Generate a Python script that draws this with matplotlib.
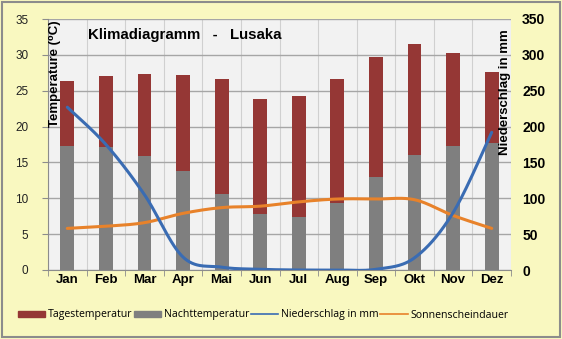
import numpy as np
import matplotlib
matplotlib.use("Agg")
import matplotlib.pyplot as plt
from matplotlib.patches import Patch, Rectangle
from matplotlib.lines import Line2D

months = ["Jan", "Feb", "Mar", "Apr", "Mai", "Jun", "Jul", "Aug", "Sep", "Okt", "Nov", "Dez"]
day_temp = [26.3, 27.1, 27.4, 27.2, 26.6, 23.8, 24.2, 26.6, 29.7, 31.5, 30.2, 27.6]
night_temp = [17.3, 17.1, 15.9, 13.8, 10.6, 7.8, 7.4, 9.3, 13.0, 16.0, 17.3, 17.7]
precip = [227, 175, 105, 18, 4, 1, 0, 0, 1, 17, 80, 192]
sunshine = [5.8, 6.1, 6.6, 7.9, 8.7, 8.9, 9.5, 9.9, 9.9, 9.8, 7.6, 5.8]

left_ticks = [0, 5, 10, 15, 20, 25, 30, 35]
right_ticks = [0, 50, 100, 150, 200, 250, 300, 350]

C_RED = "#953735"
C_GRAY = "#7F7F7F"
C_BLUE = "#3A6CB3"
C_ORANGE = "#E8822A"
C_BG = "#F9F8C0"
C_PLOT = "#F2F2F2"
FAM = ["Liberation Sans", "DejaVu Sans"]


def smooth(xs, ys, n=30):
    xs = np.asarray(xs, float)
    ys = np.asarray(ys, float)
    P = np.column_stack([xs, ys])
    P = np.vstack([P[0], P, P[-1]])
    out = []
    for i in range(1, len(P) - 2):
        p0, p1, p2, p3 = P[i - 1], P[i], P[i + 1], P[i + 2]
        t = np.linspace(0, 1, n, endpoint=(i == len(P) - 3))[:, None]
        c1 = p1 + (p2 - p0) / 6.0
        c2 = p2 - (p3 - p1) / 6.0
        seg = ((1 - t) ** 3) * p1 + 3 * ((1 - t) ** 2) * t * c1 + 3 * (1 - t) * t ** 2 * c2 + t ** 3 * p2
        out.append(seg)
    out = np.vstack(out)
    return out[:, 0], out[:, 1]


W, H = 562, 339
fig = plt.figure(figsize=(W / 100, H / 100), dpi=100)
fig.patch.set_facecolor(C_BG)
fig.patches.append(Rectangle((2 / W, 2 / H), (W - 4) / W, (H - 4) / H, transform=fig.transFigure,
                             fill=False, edgecolor="#8C8C8C", linewidth=1.5))

L, R, T, B = 48, 511, 19, 270
ax = fig.add_axes([L / W, 1 - B / H, (R - L) / W, (B - T) / H])
ax.set_facecolor(C_PLOT)
x = np.arange(len(months))

ax.set_xlim(-0.5, len(months) - 0.5)
ax.set_ylim(0, 35)
ax.set_yticks(left_ticks)
ax.set_yticklabels([str(v) for v in left_ticks], fontsize=8.5, color="#222222", family=FAM)
ax.set_axisbelow(True)
ax.yaxis.grid(True, color="#A6A6A6", linewidth=1.0)
ax.set_xticks(x)
ax.set_xticklabels(months, fontsize=9.5, fontweight="bold", family=FAM)
ax.set_xticks(np.arange(-0.5, len(months), 1.0), minor=True)
ax.xaxis.grid(True, which="minor", color="#D0D0D0", linewidth=0.8)
ax.tick_params(axis="x", which="major", length=0, pad=3)
ax.tick_params(axis="x", which="minor", length=4, color="#8C8C8C")
ax.tick_params(axis="y", length=4, color="#8C8C8C", pad=10)
for s in ["top", "right"]:
    ax.spines[s].set_visible(False)
ax.spines["left"].set_color("#8C8C8C")
ax.spines["bottom"].set_color("#8C8C8C")

bw = 0.36
ax.bar(x, day_temp, width=bw, color=C_RED, zorder=2)
ax.bar(x, night_temp, width=bw, color=C_GRAY, zorder=3)

sx, sy = smooth(x, sunshine)
ax.plot(sx, sy, color=C_ORANGE, linewidth=2.2, zorder=5, solid_capstyle="round")

ax2 = ax.twinx()
ax2.set_ylim(0, 350)
ax2.set_yticks(right_ticks)
ax2.set_yticklabels([str(v) for v in right_ticks], fontsize=10, fontweight="bold", family=FAM)
ax2.tick_params(axis="y", length=0, pad=8)
for s in ax2.spines.values():
    s.set_visible(False)
px, py = smooth(x, precip)
ax2.plot(px, py, color=C_BLUE, linewidth=2.2, zorder=6, solid_capstyle="round")

fig.text((L + 40) / W, 1 - 35 / H, "Klimadiagramm   -   Lusaka", fontsize=10.8, fontweight="bold",
         family=FAM, ha="left", va="center")
fig.text(55 / W, 1 - 20 / H, "Temperature (\u2070C)", rotation=90, fontsize=9.5, fontweight="bold",
         family=FAM, ha="center", va="top")
fig.text(505 / W, 1 - 29 / H, "Niederschlag in mm", rotation=90, fontsize=9.5, fontweight="bold",
         family=FAM, ha="center", va="top")

handles = [Patch(color=C_RED), Patch(color=C_GRAY),
           Line2D([], [], color=C_BLUE, linewidth=1.2), Line2D([], [], color=C_ORANGE, linewidth=1.2)]
labels = ["Tagestemperatur", "Nachttemperatur", "Niederschlag in mm", "Sonnenscheindauer"]
fig.legend(handles, labels, loc="center", bbox_to_anchor=(263 / W, 1 - 315 / H), ncol=4, frameon=False,
           prop={"family": "Open Sans", "size": 7.6}, handlelength=2.6, handleheight=0.55,
           handletextpad=0.25, columnspacing=0.15, borderpad=0)

fig.savefig("out.png", dpi=100, facecolor=C_BG)
